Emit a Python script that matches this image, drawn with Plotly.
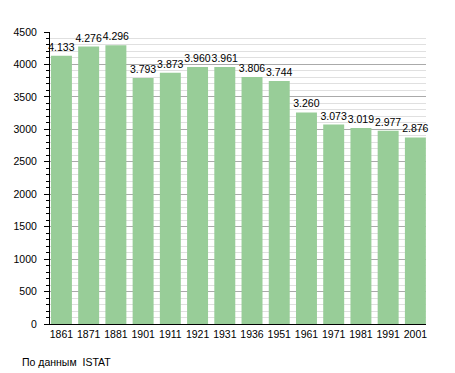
import plotly.graph_objects as go

years = ["1861", "1871", "1881", "1901", "1911", "1921", "1931", "1936",
         "1951", "1961", "1971", "1981", "1991", "2001"]
population = [4133, 4276, 4296, 3793, 3873, 3960, 3961, 3806, 3744,
              3260, 3073, 3019, 2977, 2876]
labels = [f"{v:,}".replace(",", ".") for v in population]
y_ticks = [0, 500, 1000, 1500, 2000, 2500, 3000, 3500, 4000, 4500]

fig = go.Figure(go.Bar(
    x=years, y=population, text=labels, textposition="outside",
    textfont=dict(size=10.5, color="#000"), cliponaxis=False,
    constraintext="none",
    marker=dict(color="rgb(152,205,152)", line=dict(width=0)),
    hoverinfo="skip",
))

# page body has an 8px margin: compensate
fig.update_layout(
    width=447, height=365,
    margin=dict(l=42, r=29, t=24, b=49),
    plot_bgcolor="white", paper_bgcolor="white",
    font=dict(family="Liberation Sans, Arial, sans-serif", size=10, color="#000"),
    bargap=0.23,
    showlegend=False,
)
fig.update_xaxes(
    type="category", range=[-0.42, 13.39], automargin=False,
    showline=True, linecolor="#000", linewidth=1,
    ticks="", showgrid=False, tickfont=dict(size=10.5),
)
fig.update_yaxes(
    range=[0, 4500], tickvals=y_ticks, ticktext=[str(v) for v in y_ticks],
    automargin=False,
    showline=True, linecolor="#000", linewidth=1,
    ticks="outside", ticklen=5, tickcolor="#000",
    ticklabelstandoff=5,
    showgrid=True, gridcolor="#aaaaaa", gridwidth=1,
    minor=dict(dtick=100, showgrid=True, gridcolor="#e0e0e0",
               ticks="outside", ticklen=3, tickcolor="#000"),
    zeroline=False, tickfont=dict(size=10.5),
)
fig.add_annotation(
    text="По данным\u00a0\u00a0ISTAT", xref="paper", yref="paper",
    x=-30/376, y=-38/292, xanchor="left", yanchor="middle",
    showarrow=False, font=dict(size=10.5, color="#000"),
)

fig.write_html("out.html")
